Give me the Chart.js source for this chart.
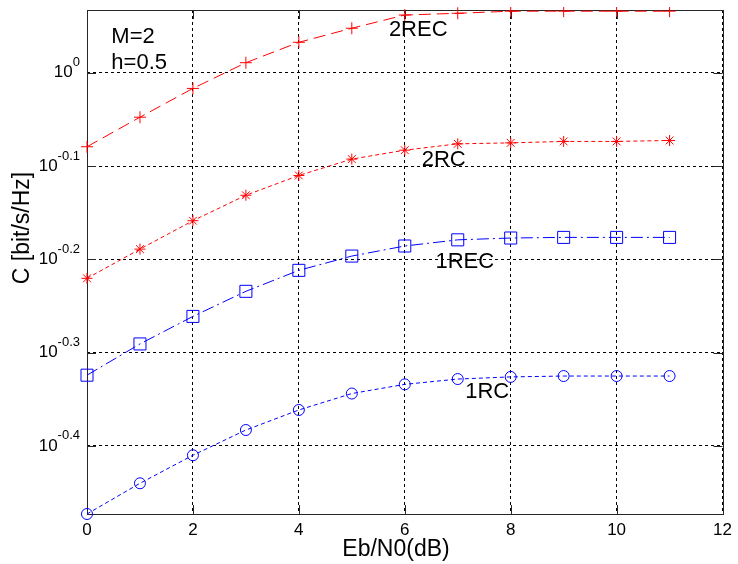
<!DOCTYPE html>
<html><head><meta charset="utf-8">
<script src="https://cdn.jsdelivr.net/npm/chart.js@4"></script>
<style>html,body{margin:0;padding:0;background:#fff;} canvas{display:block;}</style>
</head><body>
<canvas id="c" width="738" height="564"></canvas>
<script>
// ---- data ----
const ebn0 = [0,1,2,3,4,5,6,7,8,9,10,11];
const c2REC = [0.833,0.896,0.962,1.025,1.078,1.116,1.153,1.158,1.164,1.164,1.164,1.164];
const c2RC  = [0.602,0.647,0.694,0.739,0.776,0.808,0.826,0.839,0.841,0.844,0.844,0.846];
const c1REC = [0.474,0.512,0.548,0.583,0.614,0.636,0.652,0.662,0.665,0.666,0.666,0.666];
const c1RC  = [0.3365,0.363,0.389,0.414,0.435,0.453,0.4634,0.4695,0.472,0.473,0.473,0.473];
const xTicks = [0,2,4,6,8,10,12];
const yTickExps = ['0','-0.1','-0.2','-0.3','-0.4'];
const seriesNames = ['2REC','2RC','1REC','1RC'];
const labelX = [5.70,6.32,6.58,7.14];
const labelY = [1.111,0.806,0.627,0.455];
const infoLines = ['M=2','h=0.5'];
const infoX = [0.46,0.46];
const infoY = [1.092,1.024];
const xTitle = 'Eb/N0(dB)';
const yTitle = 'C [bit/s/Hz]';
const yMin = 0.3365, yMax = 1.1674;

const FONT = '"Liberation Sans", Arial, sans-serif';
const RED = '#ff0000', BLUE = '#0000ff';

function pts(arr){ return ebn0.map((x,i)=>({x:x,y:arr[i]})); }

const overlay = {
  id:'overlay',
  beforeDatasetsDraw(chart){
    const {ctx, chartArea:a, scales} = chart;
    ctx.save();
    ctx.strokeStyle = '#262626';
    ctx.lineWidth = 1;
    ctx.setLineDash([]);
    const tl = 9;
    ctx.beginPath();
    xTicks.forEach(v=>{
      const x = Math.round(scales.x.getPixelForValue(v))+0.5;
      ctx.moveTo(x,a.bottom); ctx.lineTo(x,a.bottom-tl);
      ctx.moveTo(x,a.top); ctx.lineTo(x,a.top+tl);
    });
    yTickExps.forEach(e=>{
      const y = Math.round(scales.y.getPixelForValue(Math.pow(10,parseFloat(e))))+0.5;
      ctx.moveTo(a.left,y); ctx.lineTo(a.left+tl,y);
      ctx.moveTo(a.right,y); ctx.lineTo(a.right-tl,y);
    });
    ctx.stroke();
    ctx.strokeRect(Math.round(a.left)+0.5, Math.round(a.top)+0.5, Math.round(a.right-a.left), Math.round(a.bottom-a.top));
    ctx.restore();
  },
  afterDraw(chart){
    const {ctx, chartArea:a, scales} = chart;
    ctx.save();
    ctx.fillStyle = '#000';
    // y tick labels with superscript
    const right = 80;
    yTickExps.forEach(e=>{
      const y = scales.y.getPixelForValue(Math.pow(10,parseFloat(e)));
      ctx.font = '13px ' + FONT;
      const supW = ctx.measureText(e).width;
      ctx.font = '17px ' + FONT;
      const baseW = ctx.measureText('10').width;
      ctx.textAlign = 'left'; ctx.textBaseline = 'middle';
      ctx.fillText('10', right - supW - baseW, y);
      ctx.font = '13px ' + FONT;
      ctx.fillText(e, right - supW, y - 10);
    });
    // series labels and info
    ctx.font = '22px ' + FONT;
    ctx.textAlign = 'left'; ctx.textBaseline = 'middle';
    seriesNames.forEach((n,i)=>{
      ctx.fillText(n, scales.x.getPixelForValue(labelX[i]), scales.y.getPixelForValue(labelY[i]));
    });
    infoLines.forEach((n,i)=>{
      ctx.fillText(n, scales.x.getPixelForValue(infoX[i]), scales.y.getPixelForValue(infoY[i]));
    });
    // axis titles
    ctx.font = '23px ' + FONT;
    ctx.textAlign = 'center'; ctx.textBaseline = 'middle';
    ctx.fillText(xTitle, 396, 550);
    ctx.translate(22.5, 228);
    ctx.rotate(-Math.PI/2);
    ctx.fillText(yTitle, 0, 0);
    ctx.restore();
  }
};

const common = {fill:false, tension:0, borderWidth:1, pointBorderWidth:1,
  pointBackgroundColor:'rgba(0,0,0,0)', clip:{left:8,top:3,right:8,bottom:8}};

new Chart(document.getElementById('c'), {
  type:'line',
  data:{ datasets:[
    Object.assign({label:seriesNames[0], data:pts(c2REC), borderColor:RED, pointBorderColor:RED,
      borderDash:[12,6], pointStyle:'cross', pointRadius:6}, common),
    Object.assign({label:seriesNames[1], data:pts(c2RC), borderColor:RED, pointBorderColor:RED,
      borderDash:[4,3], pointStyle:'star', pointRadius:5.5}, common),
    Object.assign({label:seriesNames[2], data:pts(c1REC), borderColor:BLUE, pointBorderColor:BLUE,
      borderDash:[12,4,2,4], pointStyle:'rect', pointRadius:8.5}, common),
    Object.assign({label:seriesNames[3], data:pts(c1RC), borderColor:BLUE, pointBorderColor:BLUE,
      borderDash:[4,3], pointStyle:'circle', pointRadius:5.5}, common)
  ]},
  options:{
    responsive:false, animation:false, devicePixelRatio:1,
    layout:{padding:{left:0,right:13,top:10,bottom:0}},
    plugins:{legend:{display:false}, tooltip:{enabled:false}},
    elements:{point:{hoverRadius:0}},
    scales:{
      x:{type:'linear', min:0, max:12,
        afterBuildTicks(s){ s.ticks = xTicks.map(v=>({value:v})); },
        afterFit(s){ s.height = 50; },
        ticks:{font:{family:FONT, size:17}, color:'#000', padding:6, maxRotation:0},
        grid:{color:'#000', lineWidth:1, drawTicks:false},
        border:{display:false, dash:[3,3]}
      },
      y:{type:'logarithmic', min:yMin, max:yMax,
        afterBuildTicks(s){ s.ticks = yTickExps.map(e=>({value:Math.pow(10,parseFloat(e))})); },
        afterFit(s){ s.width = 87; },
        ticks:{display:false},
        grid:{color:'#000', lineWidth:1, drawTicks:false},
        border:{display:false, dash:[3,3]}
      }
    }
  },
  plugins:[overlay]
});
</script>
</body></html>
